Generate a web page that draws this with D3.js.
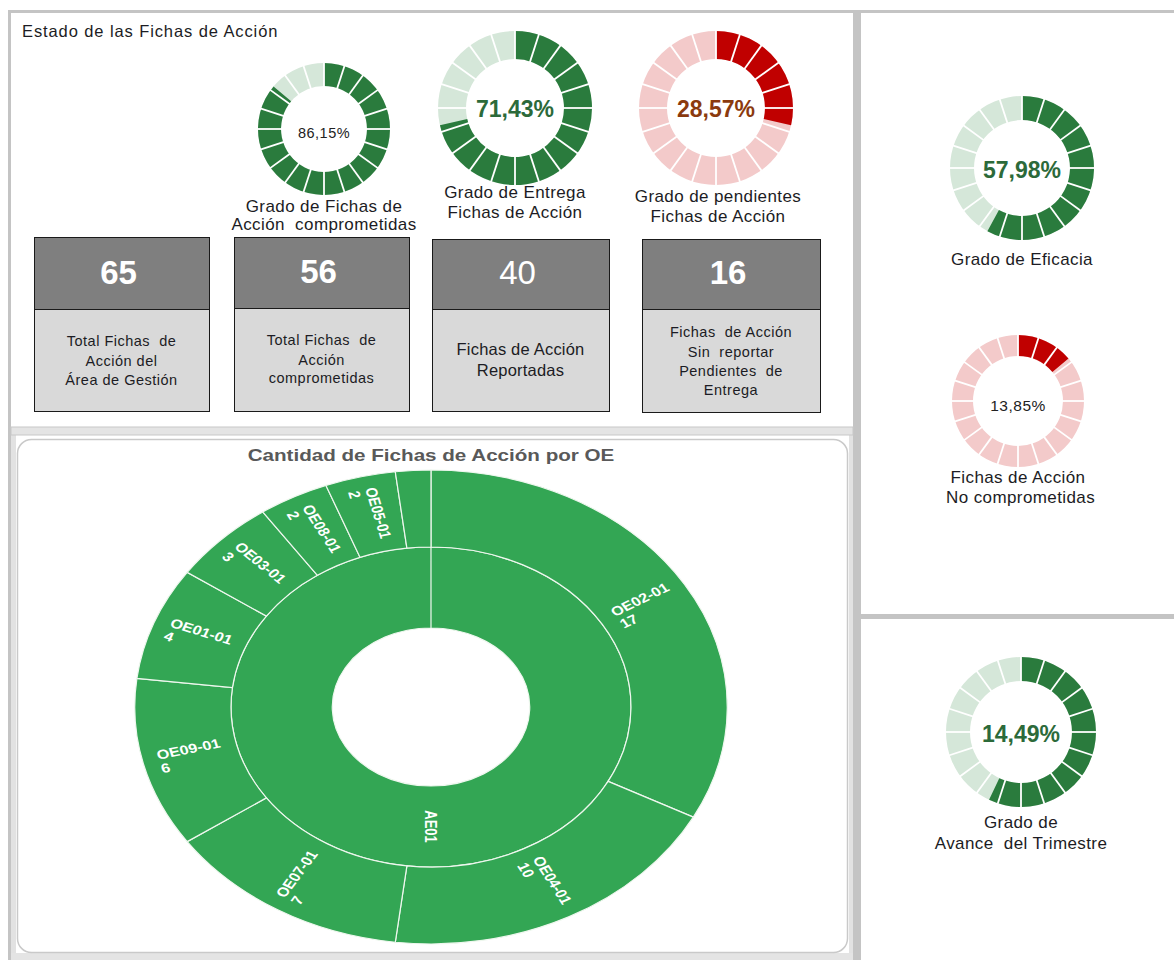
<!DOCTYPE html>
<html>
<head>
<meta charset="utf-8">
<script src="https://cdn.jsdelivr.net/npm/d3@7"></script>
<style>
  body { margin: 0; background: #fff; }
  svg text { font-family: "Liberation Sans", Arial, sans-serif; white-space: pre; }
</style>
</head>
<body>
<script>
// ---- data ----
const gaugeTexts = ["86,15%", "71,43%", "28,57%", "57,98%", "13,85%", "14,49%"];
// filled share of each ring as drawn (the last ring is drawn fuller than its label)
const gaugeFill = [0.8615, 0.7143, 0.2857, 0.5798, 0.1385, 0.57];
const gaugeLabels = [
    ["Grado de Fichas de", "Acción  comprometidas"],
    ["Grado de Entrega", "Fichas de Acción"],
    ["Grado de pendientes", "Fichas de Acción"],
    ["Grado de Eficacia"],
    ["Fichas de Acción", " No comprometidas"],
    ["Grado de", "Avance  del Trimestre"]
];

const boxValues = [65, 56, 40, 16];
const boxLabels = [
    ["Total Fichas  de", "Acción del", "Área de Gestión"],
    ["Total Fichas  de", "Acción", "comprometidas"],
    ["Fichas de Acción", "Reportadas"],
    ["Fichas  de Acción", "Sin  reportar", "Pendientes  de", "Entrega"]
];

const rootName = "AE01";
const oeNames = ["OE02-01", "OE04-01", "OE07-01", "OE09-01", "OE01-01", "OE03-01", "OE08-01", "OE05-01", ""];
const oeValues = [17, 10, 7, 6, 4, 3, 2, 2, 1];

// ---- layout ----
const width = 1174, height = 960;
const svg = d3.select("body").append("svg")
    .attr("width", width)
    .attr("height", height);

// panel frames
const frame = "#c4c4c4";
svg.append("rect").attr("x", 8).attr("y", 10).attr("width", width - 8).attr("height", 3).attr("fill", frame);
svg.append("rect").attr("x", 8).attr("y", 10).attr("width", 3).attr("height", height - 10).attr("fill", frame);
svg.append("rect").attr("x", 11).attr("y", 434).attr("width", 5).attr("height", height - 434).attr("fill", "#e2e2e2");
svg.append("rect").attr("x", 853).attr("y", 10).attr("width", 8).attr("height", height - 10).attr("fill", frame);
svg.append("rect").attr("x", 849).attr("y", 434).attr("width", 4).attr("height", height - 434).attr("fill", "#e2e2e2");
svg.append("rect").attr("x", 11).attr("y", 427).attr("width", 842).attr("height", 8).attr("fill", "#e4e4e4")
    .attr("stroke", "#c8c8c8").attr("stroke-width", 1);
svg.append("rect").attr("x", 861).attr("y", 614).attr("width", width - 861).attr("height", 5).attr("fill", frame);
svg.append("rect").attr("x", 11).attr("y", 953).attr("width", 842).attr("height", 7).attr("fill", "#e4e4e4");
svg.append("rect").attr("x", 17.5).attr("y", 439.5).attr("width", 830).attr("height", 513).attr("rx", 14)
    .attr("fill", "#fff").attr("stroke", "#c9c9c9").attr("stroke-width", 1.5);

svg.append("text").attr("x", 22).attr("y", 37)
    .style("font-size", "16.5px").style("letter-spacing", "0.9px").attr("fill", "#1c1c24")
    .text("Estado de las Fichas de Acción");

// ---- ring gauges ----
const themes = {
    green: { on: "#2a7b3d", off: "#d5e7d9" },
    red: { on: "#c00000", off: "#f3caca" }
};
const gaugeLayout = [
    { cx: 324, cy: 129, ro: 66, ri: 43, theme: "green", fs: 14.5, bold: false, tc: "#222", ty: 138, lx: 0, ly: [212, 230] },
    { cx: 515, cy: 108, ro: 77, ri: 49, theme: "green", fs: 23, bold: true, tc: "#2c6a3a", ty: 117, lx: 0, ly: [198, 218] },
    { cx: 716, cy: 108, ro: 77, ri: 49, theme: "red", fs: 23, bold: true, tc: "#8b3a0e", ty: 117, lx: 2, ly: [202, 222] },
    { cx: 1022, cy: 168, ro: 72, ri: 48, theme: "green", fs: 23, bold: true, tc: "#2c6a3a", ty: 178, lx: 0, ly: [265] },
    { cx: 1018, cy: 401, ro: 66, ri: 45, theme: "red", fs: 15.5, bold: false, tc: "#222", ty: 411, lx: 0, ly: [483, 503] },
    { cx: 1021, cy: 732, ro: 75, ri: 51, theme: "green", fs: 23, bold: true, tc: "#2c6a3a", ty: 742, lx: 0, ly: [828, 849] }
];
const segments = d3.range(20);
const angle = d3.scaleLinear().domain([0, 1]).range([0, 2 * Math.PI]);

gaugeLayout.forEach((L, i) => {
    const g = svg.append("g").attr("transform", `translate(${L.cx},${L.cy})`);
    const arc = d3.arc().innerRadius(L.ri).outerRadius(L.ro);
    const col = themes[L.theme];

    g.append("path")
        .attr("d", arc({ startAngle: 0, endAngle: 2 * Math.PI }))
        .attr("fill", col.off);
    g.append("path")
        .attr("d", arc({ startAngle: 0, endAngle: angle(gaugeFill[i]) }))
        .attr("fill", col.on);

    // white separators between the 20 segments
    g.selectAll("line.sep")
        .data(segments)
        .join("line")
        .attr("class", "sep")
        .attr("x1", d => d3.pointRadial(angle(d / 20), L.ri - 1)[0])
        .attr("y1", d => d3.pointRadial(angle(d / 20), L.ri - 1)[1])
        .attr("x2", d => d3.pointRadial(angle(d / 20), L.ro + 1)[0])
        .attr("y2", d => d3.pointRadial(angle(d / 20), L.ro + 1)[1])
        .attr("stroke", "#fff")
        .attr("stroke-width", 1.8);

    g.append("text")
        .attr("y", L.ty - L.cy)
        .attr("text-anchor", "middle")
        .style("font-size", L.fs + "px")
        .style("font-weight", L.bold ? "bold" : "normal")
        .style("letter-spacing", L.bold ? "0px" : "0.5px")
        .attr("fill", L.tc)
        .text(gaugeTexts[i]);

    gaugeLabels[i].forEach((line, k) => {
        svg.append("text")
            .attr("x", L.cx + L.lx)
            .attr("y", L.ly[k])
            .attr("text-anchor", "middle")
            .style("font-size", "17px")
            .style("letter-spacing", "0.4px")
            .attr("fill", "#1c1c24")
            .text(line);
    });
});

// ---- number boxes ----
const boxLayout = [
    { x: 34, w: 175, y: 237, mid: 309, bottom: 411, bold: true, fs: 14.5, lines: [346, 366, 385] },
    { x: 234, w: 175, y: 237, mid: 308, bottom: 411, bold: true, fs: 14.5, lines: [345, 365, 383] },
    { x: 432, w: 177, y: 239, mid: 309, bottom: 411, bold: false, fs: 16.5, lines: [355, 376] },
    { x: 642, w: 178, y: 239, mid: 309, bottom: 412, bold: true, fs: 14.5, lines: [337, 357, 376, 395] }
];

boxLayout.forEach((B, i) => {
    const g = svg.append("g");
    g.append("rect")
        .attr("x", B.x + 0.5).attr("y", B.y + 0.5)
        .attr("width", B.w).attr("height", B.mid - B.y)
        .attr("fill", "#7f7f7f").attr("stroke", "#1a1a1a");
    g.append("rect")
        .attr("x", B.x + 0.5).attr("y", B.mid + 0.5)
        .attr("width", B.w).attr("height", B.bottom - B.mid)
        .attr("fill", "#d9d9d9").attr("stroke", "#1a1a1a");
    g.append("text")
        .attr("x", B.x + B.w / 2 - 3)
        .attr("y", B.mid - 25)
        .attr("text-anchor", "middle")
        .style("font-size", "33px")
        .style("font-weight", B.bold ? "bold" : "normal")
        .attr("fill", "#fff")
        .text(boxValues[i]);
    g.selectAll("text.lbl")
        .data(boxLabels[i])
        .join("text")
        .attr("class", "lbl")
        .attr("x", B.x + B.w / 2)
        .attr("y", (d, k) => B.lines[k])
        .attr("text-anchor", "middle")
        .style("font-size", B.fs + "px")
        .style("letter-spacing", i === 2 ? "0.2px" : "0.5px")
        .attr("fill", "#1c1c24")
        .text(d => d);
});

// ---- sunburst ----
const data = {
    name: rootName,
    children: oeNames.map((n, i) => ({ name: n, value: oeValues[i] }))
};
const root = d3.hierarchy(data).sum(d => d.value || 0);
d3.partition().size([2 * Math.PI, 2])(root);

const radius = d3.scaleLinear().domain([0, 1, 2]).range([79, 160, 237]);
const sunArc = d3.arc()
    .startAngle(d => d.x0)
    .endAngle(d => Math.min(d.x1, 2 * Math.PI - 1e-4))
    .innerRadius(d => radius(d.y0))
    .outerRadius(d => radius(d.y1));

// the panel is shown stretched horizontally
const sun = svg.append("g").attr("transform", "translate(431,707) scale(1.25,1)");

sun.append("text")
    .attr("y", -246)
    .attr("text-anchor", "middle")
    .style("font-size", "16.5px")
    .style("font-weight", "bold")
    .attr("fill", "#595959")
    .text("Cantidad de Fichas de Acción por OE");

sun.selectAll("path")
    .data(root.descendants())
    .join("path")
    .attr("d", sunArc)
    .attr("fill", "#33a654")
    .attr("stroke", "#eef7ee")
    .attr("stroke-width", 1.2)
    .attr("vector-effect", "non-scaling-stroke");

const labels = sun.selectAll("g.lbl")
    .data(root.descendants().filter(d => d.x1 - d.x0 > 0.15 && d.data.name))
    .join("g")
    .attr("class", "lbl")
    .attr("transform", d => {
        const a = (d.x0 + d.x1) / 2;
        const rm = (radius(d.y0) + radius(d.y1)) / 2;
        const deg = a * 180 / Math.PI;
        const rot = deg <= 180 ? deg - 90 : deg + 90;
        const [x, y] = d3.pointRadial(a, rm);
        return `translate(${x},${y}) rotate(${rot})`;
    });

labels.each(function (d) {
    const t = d3.select(this).append("text")
        .style("font-size", "13px")
        .style("font-weight", "bold")
        .attr("fill", "#fff");
    const l1 = t.append("tspan").attr("y", d.depth ? -1 : 4.5).text(d.data.name);
    const w = l1.node().getComputedTextLength();
    l1.attr("x", -w / 2);
    if (d.depth) {
        t.append("tspan").attr("x", -w / 2).attr("y", 13).text(d.value);
    }
});
</script>
</body>
</html>
